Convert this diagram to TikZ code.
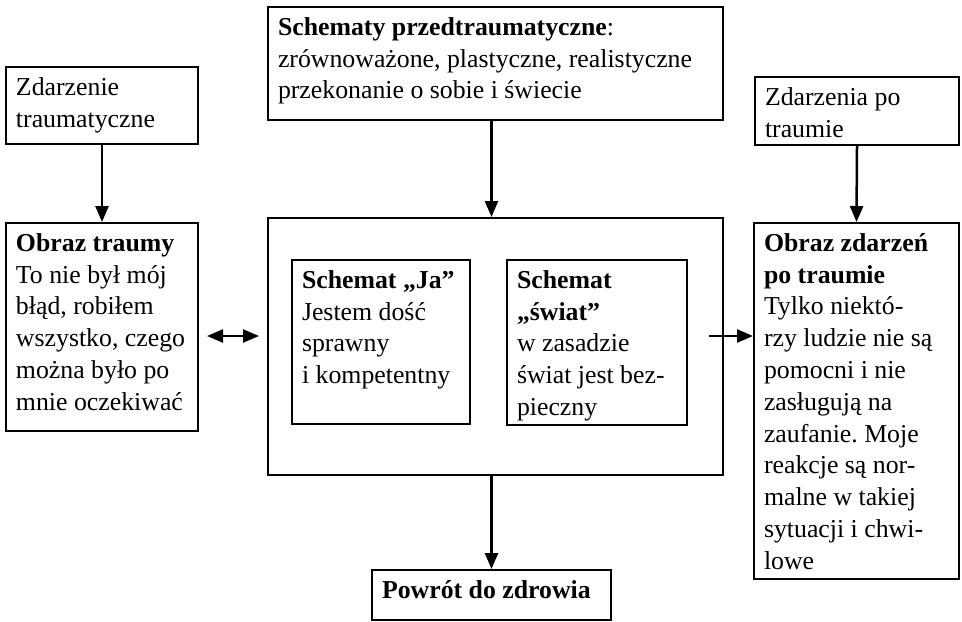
\documentclass[tikz,border=0pt]{standalone}
\usepackage{fontspec}
\setmainfont{Liberation Serif}
\usetikzlibrary{arrows.meta}
\frenchspacing
\newcommand{\boxtxt}[3]{\parbox[t][#2][t]{#1}{\raggedright\strut #3}}
\begin{document}
\begin{tikzpicture}[x=0.5pt,y=-0.5pt,font=\fontsize{12.9}{15.9}\selectfont]
  \tikzstyle{frame}=[draw,line width=1pt,anchor=north west,inner xsep=5pt,inner ysep=3pt]
  \tikzstyle{link}=[line width=1.25pt,-{Triangle[length=8pt,width=6.5pt]}]
  \tikzstyle{both link}=[line width=1.25pt,{Triangle[length=8pt,width=6.5pt]}-{Triangle[length=8pt,width=6.5pt]}]
  \useasboundingbox (0,0) rectangle (962,621);
  \node(ev1)[frame] at (5,66) {\boxtxt{86pt}{32.5pt}{Zdarzenie\\traumatyczne}};
  \node(pre)[frame] at (267,6) {\boxtxt{217.5pt}{50.5pt}{\textbf{Schematy przedtraumatyczne}:\\
      zrównoważone, plastyczne, realistyczne\\
      przekonanie o sobie i świecie}};
  \node(ev2)[frame] at (754,76) {\boxtxt{92pt}{28pt}{Zdarzenia po\\traumie}};
  \node(img1)[frame] at (5,222) {\boxtxt{86pt}{98pt}{\textbf{Obraz traumy}\\
      To nie był mój\\błąd, robiłem\\wszystko, czego\\można było po\\mnie oczekiwać}};
  \node(mid)[frame,inner sep=0pt,minimum width=227.5pt,minimum height=128.5pt] at (267,217) {};
  \node(ja)[frame] at (291,259) {\boxtxt{79pt}{76pt}{\textbf{Schemat „Ja”}\\
      Jestem dość\\sprawny\\i kompetentny}};
  \node(sw)[frame] at (506,259) {\boxtxt{80pt}{76.5pt}{\textbf{Schemat}\\\textbf{„świat”}\\
      w zasadzie\\świat jest bez-\\pieczny}};
  \node(img2)[frame] at (753,222) {\boxtxt{92.5pt}{172pt}{\textbf{Obraz zdarzeń}\\\textbf{po traumie}\\
      Tylko niektó-\\rzy ludzie nie są\\pomocni i nie\\zasługują na\\zaufanie. Moje\\
      reakcje są nor-\\malne w takiej\\sytuacji i chwi-\\lowe}};
  \node(rec)[frame] at (371,569) {\boxtxt{109.5pt}{19pt}{\textbf{Powrót do zdrowia}}};
  \coordinate(hy) at (0,336);
  \draw[link] (ev1.south) -- (img1.north);
  \draw[link] (pre.south -| rec.north) -- (mid.north -| rec.north);
  \draw[link] (ev2.south) -- (img2.north);
  \draw[both link] ([xshift=4pt]img1.east |- hy) -- ([xshift=-4pt]mid.west |- hy);
  \draw[link] ([xshift=-7.5pt]mid.east |- hy) -- (img2.west |- hy);
  \draw[link] (mid.south -| rec.north) -- (rec.north);
\end{tikzpicture}
\end{document}
